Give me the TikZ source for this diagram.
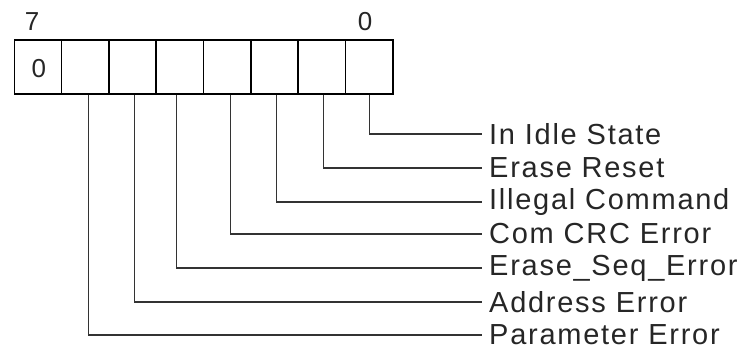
\documentclass[tikz,border=0pt]{standalone}
\usepackage{fontspec}
\setmainfont{Liberation Sans}[LetterSpace=6]
\newfontfamily\digitfont{Liberation Sans}
\begin{document}
\begin{tikzpicture}[x=1pt,y=1pt,
  cell/.style={draw=black,line width=1.6pt,minimum width=47.3pt,minimum height=54pt,inner sep=0pt,anchor=north west},
  lab/.style={anchor=west,inner xsep=7pt,inner ysep=0pt,font=\fontsize{29}{30}\selectfont,text=black!85},
  bitnum/.style={font=\digitfont\fontsize{26}{28}\selectfont,inner sep=0pt,text=black!85},
  conn/.style={draw=black!80,line width=1.5pt}]
\useasboundingbox (0,0) rectangle (747,-346);
% register cells
\foreach \i/\n in {0/7,1/6,2/5,3/4,4/3,5/2,6/1,7/0}{
  \node[cell] (b\n) at (13.5+47.3*\i,-39) {};
}
\node[bitnum] (z) at ([xshift=1pt,yshift=-2pt]b7.center) {0};
\node[bitnum] (h) at (32,-22) {7};
\node[bitnum] (l) at (365,-22) {0};
% labels
\node[lab] (l0) at (482,-134) {In Idle State};
\node[lab] (l1) at (482,-168) {Erase Reset};
\node[lab] (l2) at (482,-202) {Illegal Command};
\node[lab] (l3) at (482,-234) {Com CRC Error};
\node[lab] (l4) at (482,-268) {Erase\_Seq\_Error};
\node[lab] (l5) at (482,-302) {Address Error};
\node[lab] (l6) at (482,-335) {Parameter Error};
% connectors
\draw[conn] ([xshift=0.3pt]b0.south) |- (l0.west);
\draw[conn] ([xshift=1.5pt]b1.south) |- (l1.west);
\draw[conn] ([xshift=1.8pt]b2.south) |- (l2.west);
\draw[conn] ([xshift=3.2pt]b3.south) |- (l3.west);
\draw[conn] ([xshift=-3.5pt]b4.south) |- (l4.west);
\draw[conn] ([xshift=1.7pt]b5.south) |- (l5.west);
\draw[conn] ([xshift=3pt]b6.south) |- (l6.west);
\end{tikzpicture}
\end{document}
